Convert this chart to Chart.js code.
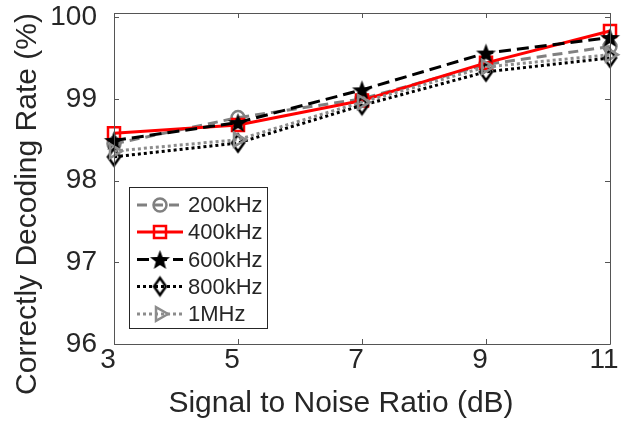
<!DOCTYPE html>
<html>
<head>
<meta charset="utf-8">
<script src="https://cdn.jsdelivr.net/npm/chart.js@4.4.0/dist/chart.umd.min.js"></script>
<style>
  html, body { margin: 0; padding: 0; background: #fff; }
  #wrap { width: 624px; height: 430px; }
</style>
</head>
<body>
<div id="wrap"><canvas id="myChart" width="624" height="430"></canvas></div>
<script>
// data
var snr = [3, 5, 7, 9, 11];
var seriesNames = ['200kHz', '400kHz', '600kHz', '800kHz', '1MHz'];
var rate200k = [98.45, 98.77, 99.00, 99.42, 99.64];
var rate400k = [98.58, 98.68, 98.98, 99.44, 99.83];
var rate600k = [98.49, 98.71, 99.11, 99.56, 99.75];
var rate800k = [98.29, 98.46, 98.92, 99.33, 99.50];
var rate1M   = [98.36, 98.50, 98.96, 99.39, 99.54];
var xTicks = [3, 5, 7, 9, 11];
var yTicks = [96, 97, 98, 99, 100];
var xTitle = 'Signal to Noise Ratio (dB)';
var yTitle = 'Correctly Decoding Rate (%)';

var FONT = 'Liberation Sans, Arial, sans-serif';
var TXT = '#262626';
var AXIS = '#555555';

// pentagram marker (matlab 'p')
function makeStar(r) {
  var c = document.createElement('canvas');
  var s = Math.ceil(r * 2 + 4);
  c.width = s; c.height = s;
  var g = c.getContext('2d');
  g.translate(s / 2, s / 2 + 1);
  g.beginPath();
  for (var i = 0; i < 10; i++) {
    var rr = i % 2 ? r * 0.42 : r;
    var a = -Math.PI / 2 + i * Math.PI / 5;
    g.lineTo(Math.cos(a) * rr, Math.sin(a) * rr);
  }
  g.closePath();
  g.fillStyle = '#000';
  g.fill();
  return c;
}
// narrow diamond marker (matlab 'd')
function makeDiamond(w, h, lw) {
  var c = document.createElement('canvas');
  c.width = w * 2 + lw * 2 + 2; c.height = h * 2 + lw * 2 + 2;
  var g = c.getContext('2d');
  g.translate(c.width / 2, c.height / 2);
  g.beginPath();
  g.moveTo(0, -h); g.lineTo(w, 0); g.lineTo(0, h); g.lineTo(-w, 0);
  g.closePath();
  g.lineWidth = lw;
  g.strokeStyle = '#000';
  g.stroke();
  return c;
}
var starImg = makeStar(10.5);
var diamondImg = makeDiamond(6, 8.5, 2.5);

function pts(arr) {
  return snr.map(function (x, i) { return { x: x, y: arr[i] }; });
}

var datasets = [
  { label: seriesNames[0], data: pts(rate200k), borderColor: '#808080', borderDash: [10, 6],
    pointStyle: 'circle', pointRadius: 6.5, pointBorderColor: '#808080', order: 5 },
  { label: seriesNames[1], data: pts(rate400k), borderColor: '#ff0000', borderDash: [],
    pointStyle: 'rect', pointRadius: 8.5, pointBorderColor: '#ff0000', order: 4 },
  { label: seriesNames[2], data: pts(rate600k), borderColor: '#000000', borderDash: [12, 6],
    pointStyle: starImg, pointRadius: 10, pointBorderColor: '#000000', order: 3 },
  { label: seriesNames[3], data: pts(rate800k), borderColor: '#000000', borderDash: [3, 3],
    pointStyle: diamondImg, pointRadius: 8, pointBorderColor: '#000000', order: 2 },
  { label: seriesNames[4], data: pts(rate1M), borderColor: '#8c8c8c', borderDash: [3, 3],
    pointStyle: 'triangle', pointRotation: 90, pointRadius: 8, pointBorderColor: '#8c8c8c', order: 1 }
];
datasets.forEach(function (d) {
  d.borderWidth = 3;
  d.pointBorderWidth = 2.5;
  d.pointBackgroundColor = 'rgba(0,0,0,0)';
  d.tension = 0;
  d.fill = false;
  d.clip = false;
  d.borderCapStyle = 'butt';
});

// box, inward ticks, axis titles, legend
var decor = {
  id: 'decor',
  afterDraw: function (chart) {
    var ctx = chart.ctx, a = chart.chartArea;
    var xs = chart.scales.x, ys = chart.scales.y;
    ctx.save();
    ctx.strokeStyle = AXIS;
    ctx.lineWidth = 1;
    ctx.beginPath();
    ctx.rect(Math.round(a.left) + 0.5, Math.round(a.top) + 0.5,
             Math.round(a.right - a.left), Math.round(a.bottom - a.top));
    xTicks.forEach(function (v) {
      var x = Math.round(xs.getPixelForValue(v)) + 0.5;
      ctx.moveTo(x, a.bottom); ctx.lineTo(x, a.bottom - 5);
      ctx.moveTo(x, a.top); ctx.lineTo(x, a.top + 5);
    });
    yTicks.forEach(function (v) {
      var y = Math.round(ys.getPixelForValue(v)) + 0.5;
      ctx.moveTo(a.left, y); ctx.lineTo(a.left + 5, y);
      ctx.moveTo(a.right, y); ctx.lineTo(a.right - 5, y);
    });
    ctx.stroke();

    // axis titles
    ctx.fillStyle = TXT;
    ctx.font = '30px ' + FONT;
    ctx.textAlign = 'center';
    ctx.textBaseline = 'middle';
    ctx.fillText(xTitle, 341, 404);
    ctx.translate(28, 204);
    ctx.rotate(-Math.PI / 2);
    ctx.fillText(yTitle, 0, 0);
    ctx.restore();

    // legend
    ctx.save();
    ctx.fillStyle = '#fff';
    ctx.fillRect(129, 187, 138, 141);
    ctx.strokeStyle = '#262626';
    ctx.lineWidth = 1;
    ctx.strokeRect(129.5, 187.5, 138, 141);
    var rowY = [205, 232, 259.5, 286.5, 314];
    chart.data.datasets.forEach(function (d, i) {
      var y = rowY[i];
      ctx.save();
      ctx.strokeStyle = d.borderColor;
      ctx.lineWidth = d.borderWidth;
      ctx.setLineDash(d.borderDash);
      ctx.beginPath();
      ctx.moveTo(137, y); ctx.lineTo(183, y);
      ctx.stroke();
      ctx.setLineDash([]);
      if (typeof d.pointStyle === 'string') {
        ctx.fillStyle = 'rgba(0,0,0,0)';
        ctx.strokeStyle = d.pointBorderColor;
        ctx.lineWidth = d.pointBorderWidth;
        Chart.helpers.drawPoint(ctx, {
          pointStyle: d.pointStyle, radius: d.pointRadius,
          rotation: d.pointRotation || 0, borderWidth: d.pointBorderWidth
        }, 160, y);
      } else {
        var img = d.pointStyle;
        ctx.drawImage(img, 160 - img.width / 2, y - img.height / 2);
      }
      ctx.restore();
      ctx.fillStyle = TXT;
      ctx.font = '22px ' + FONT;
      ctx.textAlign = 'left';
      ctx.textBaseline = 'middle';
      ctx.fillText(d.label, 188, y + 1);
    });
    ctx.restore();
  }
};

var ctx = document.getElementById('myChart').getContext('2d');
var chart = new Chart(ctx, {
  type: 'line',
  data: { datasets: datasets },
  options: {
    responsive: false,
    devicePixelRatio: 1,
    animation: false,
    layout: { padding: { left: 0, top: 13, right: 14, bottom: 0 } },
    plugins: { legend: { display: false }, tooltip: { enabled: false } },
    scales: {
      x: {
        type: 'linear', min: 3, max: 11,
        border: { display: false },
        grid: { display: false, drawTicks: false },
        afterBuildTicks: function (s) { s.ticks = xTicks.map(function (v) { return { value: v }; }); },
        afterFit: function (s) { s.height = 86; s.paddingLeft = 0; s.paddingRight = 0; },
        ticks: { color: TXT, font: { family: FONT, size: 28, lineHeight: 1 }, padding: 2,
                 labelOffset: -6, maxRotation: 0, autoSkip: false }
      },
      y: {
        min: 96, max: 100.05,
        border: { display: false },
        grid: { display: false, drawTicks: false },
        afterBuildTicks: function (s) { s.ticks = yTicks.map(function (v) { return { value: v }; }); },
        afterFit: function (s) { s.width = 114; s.paddingTop = 0; s.paddingBottom = 0; },
        ticks: { color: TXT, font: { family: FONT, size: 28, lineHeight: 1 }, padding: 17 }
      }
    }
  },
  plugins: [decor]
});
</script>
</body>
</html>
